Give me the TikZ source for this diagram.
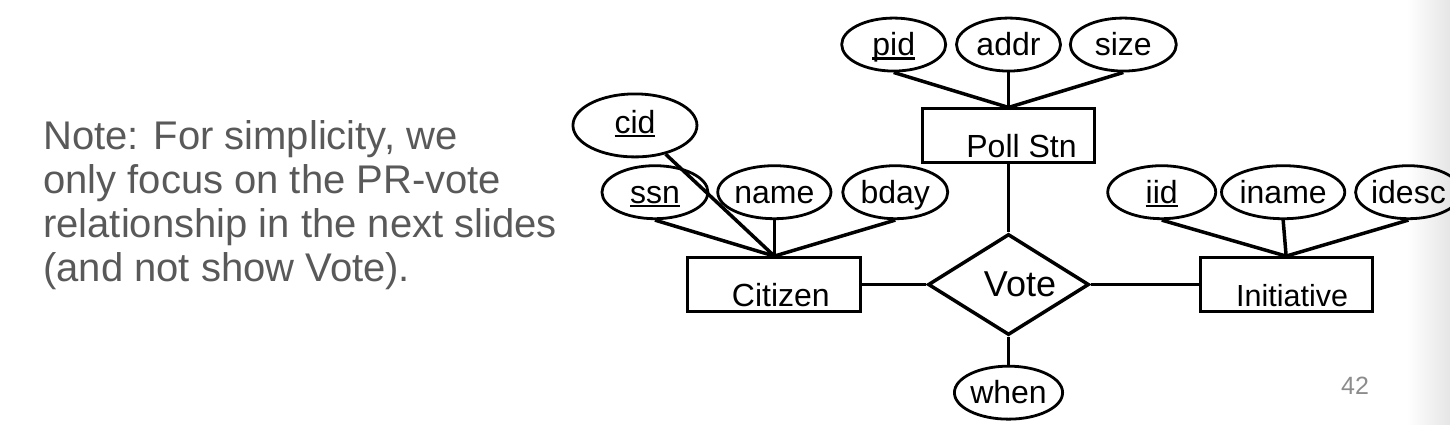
\documentclass[tikz,border=0pt]{standalone}
\usepackage{fontspec}
\setmainfont{Liberation Sans}
\usepackage{tikz}
\usetikzlibrary{positioning,shapes.geometric}
\definecolor{noteGray}{RGB}{89,89,89}
\definecolor{pageGray}{RGB}{140,140,140}
\newcommand{\pkey}[1]{\setbox0=\hbox{#1}\rlap{\rule[-4pt]{\wd0}{2.2pt}}\box0}
\tikzstyle{conn} = [line width=3.5pt]
\tikzstyle{tEllipse} = [ellipse, draw=black, line width=2.8pt, minimum width=104pt, minimum height=53pt, inner sep=0pt, text height=28pt, text depth=6pt, font=\fontsize{32}{36}\selectfont]
\tikzstyle{tRect} = [rectangle, draw=black, line width=2.8pt, minimum height=54pt, text height=44pt, text depth=0pt, inner sep=0pt, font=\fontsize{32}{36}\selectfont]
\tikzstyle{tDiamond} = [diamond, draw=black, line width=3.5pt, aspect=1.6, minimum width=161pt, minimum height=101pt, inner sep=0pt, font=\fontsize{36}{40}\selectfont]

\begin{document}
\begin{tikzpicture}[x=1pt,y=-1pt]
        \useasboundingbox (0,0) rectangle (1450,424);
        \shade[left color=white, right color=black!10] (1407,0) rectangle (1450,424);
        \node[anchor=north west, inner sep=0pt, align=left, text=noteGray, font=\fontsize{40}{44}\selectfont] (Note) at (43,120) {Note: For simplicity, we\\only focus on the PR-vote\\relationship in the next slides\\(and not show Vote).};
        % relationship and entities
        \node[tDiamond] (Vote) at (1008.5,284.5) {\hspace*{23pt}Vote};
        \node[tRect, minimum width=173pt] (Citizen) [left=64pt of Vote] {\hspace*{13pt}Citizen};
        \node[tRect, minimum width=172pt, font=\fontsize{30.5}{34}\selectfont] (Initiative) [right=108pt of Vote] {\hspace*{12pt}Initiative};
        \node[tRect, minimum width=172pt] (PollStn) [above=68pt of Vote] {\hspace*{26pt}Poll Stn};
        \node[tEllipse, minimum width=106pt] (when) [below=28pt of Vote] {when};
        % attributes
        \node[tEllipse, minimum width=103pt] (name) [above=36pt of Citizen] {name};
        \node[tEllipse, minimum width=106pt] (ssn) [left=7pt of name] {\pkey{ssn}};
        \node[tEllipse, minimum width=105pt] (bday) [right=9pt of name] {bday};
        \node[tEllipse, minimum width=124pt, minimum height=63pt, text depth=12pt] (cid) [above=6pt of ssn, xshift=-20pt] {\pkey{cid}};
        \node[tEllipse] (addr) [above=35pt of PollStn] {addr};
        \node[tEllipse] (pid) [left=8pt of addr] {\pkey{pid}};
        \node[tEllipse, minimum width=106pt] (size) [right=7pt of addr] {size};
        \node[tEllipse, minimum width=105pt] (iname) [above=36pt of Initiative, xshift=-3pt] {iname};
        \node[tEllipse, minimum width=108pt] (iid) [left=3pt of iname] {\pkey{iid}};
        \node[tEllipse, minimum width=103pt] (idesc) [right=8pt of iname] {idesc};
        \node[text=pageGray, font=\fontsize{25}{28}\selectfont] (page) at (1355,386) {42};
        % connectors
        \draw[conn] (Citizen.east) -- (Vote.west);
        \draw[conn] (Vote.east) -- (Initiative.west);
        \draw[conn] (PollStn.south) -- (Vote.north);
        \draw[conn] (Vote.south) -- (when.north);
        \draw[conn] (cid) -- (Citizen.north);
        \draw[conn] (ssn.south) -- (Citizen.north);
        \draw[conn] (name.south) -- (Citizen.north);
        \draw[conn] (bday.south) -- (Citizen.north);
        \draw[conn] (pid.south) -- (PollStn.north);
        \draw[conn] (addr.south) -- (PollStn.north);
        \draw[conn] (size.south) -- (PollStn.north);
        \draw[conn] (iid.south) -- (Initiative.north);
        \draw[conn] (iname.south) -- (Initiative.north);
        \draw[conn] (idesc.south) -- (Initiative.north);
    \end{tikzpicture}
\end{document}
